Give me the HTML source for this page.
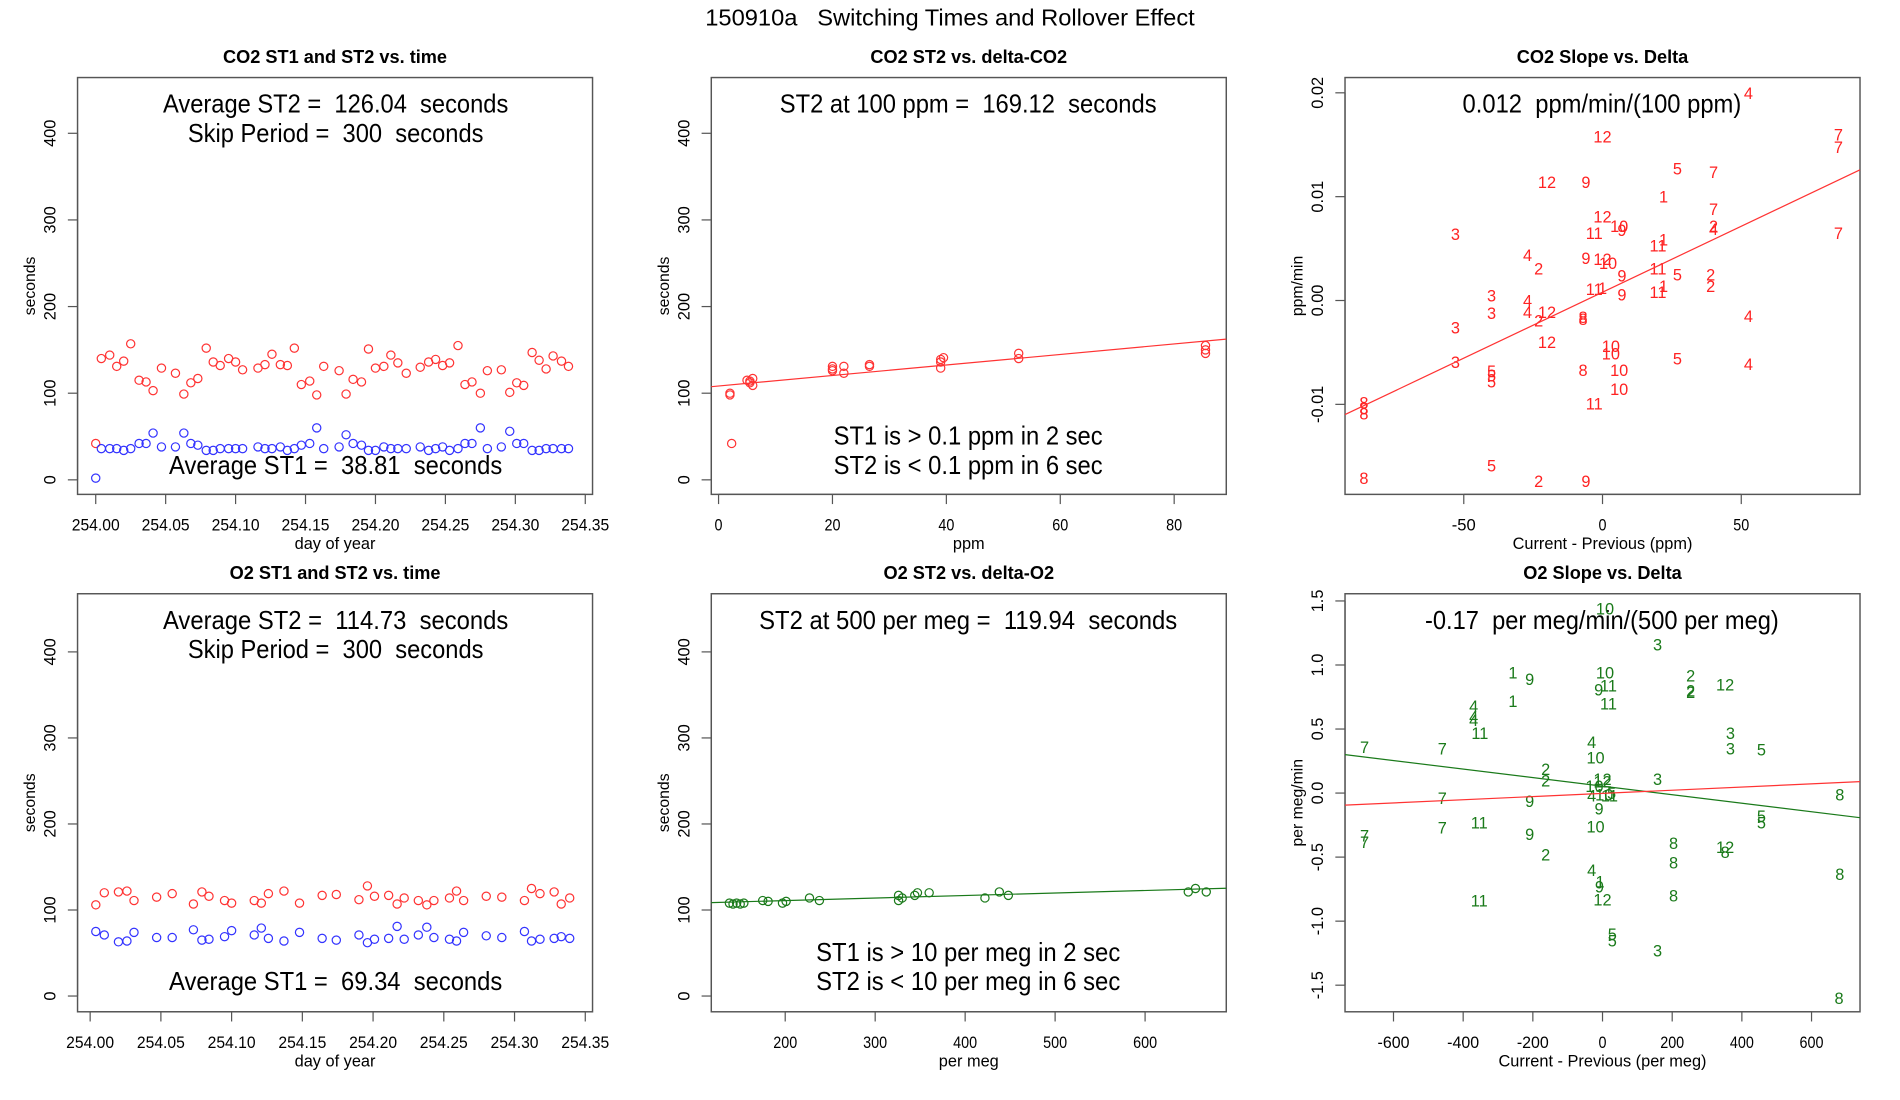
<!DOCTYPE html>
<html><head><meta charset="utf-8"><style>
html,body{margin:0;padding:0;background:#fff}
svg{display:block}
text{font-family:"Liberation Sans",sans-serif;white-space:pre}
</style></head><body>
<svg id="fig" width="1900" height="1100" viewBox="0 0 1568 907.8" preserveAspectRatio="none" xmlns="http://www.w3.org/2000/svg">
<rect x="0" y="0" width="1568" height="908" fill="#fff"/>
<text x="784" y="21" font-size="19" text-anchor="middle" textLength="404" lengthAdjust="spacingAndGlyphs">150910a   Switching Times and Rollover Effect</text>
</svg>
<script>
// ---- data ----
const co2Days=[254.000,254.004,254.010,254.015,254.020,254.025,254.031,254.036,254.041,254.047,254.057,254.063,254.068,254.073,254.079,254.084,254.089,254.095,254.100,254.105,254.116,254.121,254.126,254.132,254.137,254.142,254.147,254.153,254.158,254.163,254.174,254.179,254.184,254.190,254.195,254.200,254.206,254.211,254.216,254.222,254.232,254.238,254.243,254.248,254.253,254.259,254.264,254.269,254.275,254.280,254.290,254.296,254.301,254.306,254.312,254.317,254.322,254.327,254.333,254.338];
const co2ST2=[42,140,144,131,137,157,115,113,103,129,123,99,112,117,152,136,132,140,136,127,129,133,145,133,132,152,110,114,98,131,126,99,116,113,151,129,131,144,135,123,130,136,139,132,135,155,110,113,100,126,127,101,112,109,147,138,128,143,137,131];
const co2ST1=[2,36,36,36,34,36,42,42,54,38,38,54,42,40,34,34,36,36,36,36,38,36,36,38,34,36,40,42,60,36,38,52,42,40,34,34,38,36,36,36,38,34,36,38,34,36,42,42,60,36,38,56,42,42,34,34,36,36,36,36];
const o2Days=[254.004,254.010,254.020,254.026,254.031,254.047,254.058,254.073,254.079,254.084,254.095,254.100,254.116,254.121,254.126,254.137,254.148,254.164,254.174,254.190,254.196,254.201,254.211,254.217,254.222,254.232,254.238,254.243,254.254,254.259,254.264,254.280,254.291,254.307,254.312,254.318,254.328,254.333,254.339];
const o2ST2=[106,120,121,122,111,115,119,107,121,116,111,108,111,108,119,122,108,117,118,112,128,116,117,107,114,111,106,111,114,122,111,116,115,111,125,119,121,107,114];
const o2ST1=[75,71,63,64,74,68,68,77,65,66,69,76,71,79,67,64,74,67,65,71,62,66,67,81,66,71,80,68,66,64,74,70,68,75,64,66,67,69,67];
const co2Delta=[2,2,2.3,5,5.5,6,6,5.5,20,20,22,22,20,26.5,26.5,39,39,39.5,39,52.7,52.7,85.5,85.5,85.5];
const co2DeltaST2=[100,98,42,115,112,117,109,114,131,126,131,123,128,133,131,139,136,141,129,146,140,155,150,146];
const co2Fit=[108.3,0.607];
const o2Delta=[138,142,146,150,154,175,181,197,201,227,238,326,330,326,344,347,360,422,438,448,648,656,668];
const o2DeltaST2=[108,107,108,107,108,111,110,108,110,114,111,117,114,111,117,120,120,114,121,117,121,125,121];
const o2Fit=[105.1,0.0293];
const co2Lab=["4","12","7","7","5","7","12","9","1","7","12","10","9","2","4","11","3","7","1","11","4","9","12","10","2","11","9","5","2","1","2","11","1","11","9","3","4","3","4","12","2","8","8","4","3","12","10","10","5","3","4","5","5","5","8","10","10","11","8","8","8","5","8","2","9"];
const co2Dx=[52.6,0,85,85,27,40,-20,-6,22,40,0,6,7,40,40,-3,-53,85,22,20,-27,-6,0,2,-23,20,7,27,39,22,39,-3,0,20,7,-40,-27,-40,-27,-20,-23,-7,-7,52.6,-53,-20,3,3,27,-53,52.6,-40,-40,-40,-7,6,6,-3,-86,-86,-86,-40,-86,-23,-6];
const co2Slope=[0.020,0.0158,0.0160,0.0148,0.0127,0.0124,0.0114,0.0114,0.0100,0.0088,0.0081,0.0072,0.0068,0.0072,0.0069,0.0065,0.0064,0.0065,0.0059,0.0053,0.0044,0.0041,0.0040,0.0036,0.0031,0.0031,0.0024,0.0025,0.0025,0.0014,0.0014,0.0011,0.0012,0.0008,0.0006,0.0005,0.0,-0.0012,-0.0011,-0.0011,-0.0019,-0.0016,-0.0018,-0.0015,-0.0026,-0.0040,-0.0044,-0.0051,-0.0056,-0.0059,-0.0061,-0.0068,-0.0072,-0.0078,-0.0067,-0.0067,-0.0085,-0.0099,-0.0098,-0.0104,-0.0109,-0.0159,-0.0171,-0.0174,-0.0174];
const co2SlopeFit=[0.0008,0.000127];
const o2Lab=["10","3","1","9","10","2","12","9","11","2","2","11","1","4","4","4","11","3","3","5","7","7","4","10","2","2","12","3","12","10","4","10","11","5","9","7","8","9","5","5","7","11","10","9","7","7","8","12","8","2","8","4","8","1","9","12","11","8","5","5","3","8"];
const o2Dx=[7,158,-257,-209,7,253,352,-11,17,253,253,17,-257,-370,-370,-370,-352,367,367,456,-683,-460,-31,-20,-163,-163,0,158,0,-23,-31,5,20,26,-209,-460,681,-10,456,456,-460,-354,-20,-209,-683,-683,204,352,352,-163,204,-31,681,-7,-9,0,-354,204,28,28,158,679];
const o2Slope=[1.44,1.16,0.94,0.89,0.94,0.92,0.85,0.81,0.84,0.80,0.79,0.70,0.72,0.68,0.60,0.57,0.47,0.47,0.35,0.34,0.36,0.35,0.40,0.28,0.19,0.10,0.11,0.11,0.09,0.055,-0.02,-0.01,-0.02,0.0,-0.06,-0.04,-0.01,-0.12,-0.18,-0.23,-0.27,-0.23,-0.26,-0.32,-0.33,-0.38,-0.39,-0.42,-0.46,-0.48,-0.54,-0.60,-0.63,-0.69,-0.73,-0.83,-0.84,-0.80,-1.10,-1.15,-1.23,-1.60];
const o2SlopeFitGreen=[0.054,-0.000333];
const o2SlopeFitRed=[-0.0025,0.000124];

const NS="http://www.w3.org/2000/svg";
const svg=document.getElementById('fig');
function mk(tag,attrs,parent){const e=document.createElementNS(NS,tag);for(const k in attrs)e.setAttribute(k,attrs[k]);(parent||svg).appendChild(e);return e;}
function txt(s,attrs,parent){const e=mk('text',attrs,parent);e.textContent=s;return e;}
function lin(d0,d1,r0,r1){return v=>r0+(v-d0)*(r1-r0)/(d1-d0);}

function panel(name,box,title,xs,ys,xt,xtl,yt,ytl,xlab,ylab){
  const g=mk('g',{});
  
  
  const [x0,x1,y0,y1]=box;
  const t=txt(title,{x:(x0+x1)/2,y:y0-12,'font-size':15,'font-weight':'bold','text-anchor':'middle'},g);
  
  
  const r=mk('rect',{x:x0,y:y0,width:x1-x0,height:y1-y0,fill:'none',stroke:'#555','stroke-width':1.2},g);
  
  
  const xa=mk('g',{},g);
  
  
  mk('line',{x1:xs(xt[0]),x2:xs(xt[xt.length-1]),y1:y1,y2:y1,stroke:'#555'},xa);
  xt.forEach((v,i)=>{const X=xs(v);mk('line',{x1:X,x2:X,y1:y1,y2:y1+8,stroke:'#555'},xa);
    const l=txt(xtl[i],{x:X,y:y1+30,'font-size':14,'text-anchor':'middle',textLength:xtl[i].length*6.6,lengthAdjust:'spacingAndGlyphs'},xa);
    
    });
  const ya=mk('g',{},g);
  
  
  mk('line',{x1:x0,x2:x0,y1:ys(yt[0]),y2:ys(yt[yt.length-1]),stroke:'#555'},ya);
  yt.forEach((v,i)=>{const Y=ys(v);mk('line',{x1:x0-8,x2:x0,y1:Y,y2:Y,stroke:'#555'},ya);
    const l=txt(ytl[i],{x:0,y:0,'font-size':13.5,'text-anchor':'middle',transform:`translate(${x0-18},${Y}) rotate(-90)`},ya);
    
    });
  const xl=txt(xlab,{x:(x0+x1)/2,y:y1+45,'font-size':13.5,'text-anchor':'middle'},g);
  
  
  const yl=txt(ylab,{x:0,y:0,'font-size':13,'text-anchor':'middle',transform:`translate(${x0-35},${(y0+y1)/2}) rotate(-90)`},g);
  
  
  return g;
}
function note(g,s,cx,y,w,nm){const e=txt(s,{x:cx,y:y,'font-size':21,'text-anchor':'middle',textLength:w,lengthAdjust:'spacingAndGlyphs'},g);
  
  }
function circ(g,x,y,c,nm){const e=mk('circle',{cx:x,cy:y,r:3.4,fill:'none',stroke:c,'stroke-width':1},g);
  
  }
function fitLine(g,box,xs,ys,xsInv,fit,c,nm){const a=xsInv(box[0]),b=xsInv(box[1]);
  const e=mk('line',{x1:box[0],x2:box[1],y1:ys(fit[0]+fit[1]*a),y2:ys(fit[0]+fit[1]*b),stroke:c,'stroke-width':1},g);
  
  }
function lab(g,s,x,y,c){const e=txt(s,{x:x,y:y+5,'font-size':13.5,fill:c,'text-anchor':'middle'},g);
  
  }

const timeTicks=[254.00,254.05,254.10,254.15,254.20,254.25,254.30,254.35];
const timeTickLabels=["254.00","254.05","254.10","254.15","254.20","254.25","254.30","254.35"];
const secTicks=[0,100,200,300,400];
const secTickLabels=["0","100","200","300","400"];

{const box=[64,489,64,408];const xs=lin(254,254.35,79,483),ys=lin(0,400,396,110);
 const g=panel('co2-time-panel',box,'CO2 ST1 and ST2 vs. time',xs,ys,timeTicks,timeTickLabels,secTicks,secTickLabels,'day of year','seconds');
 note(g,'Average ST2 =  126.04  seconds',277,93,285,'avg-st2-note');note(g,'Skip Period =  300  seconds',277,117,244,'skip-period-note');note(g,'Average ST1 =  38.81  seconds',277,391,275,'avg-st1-note');
 co2Days.forEach((d,i)=>{circ(g,xs(d),ys(co2ST2[i]),'#ff3333','st2-point');circ(g,xs(d),ys(co2ST1[i]),'#3333ff','st1-point');});}
{const box=[587,1012,64,408];const xs=lin(0,80,593,969),ys=lin(0,400,396,110);const xi=lin(593,969,0,80);
 const g=panel('co2-delta-panel',box,'CO2 ST2 vs. delta-CO2',xs,ys,[0,20,40,60,80],["0","20","40","60","80"],secTicks,secTickLabels,'ppm','seconds');
 note(g,'ST2 at 100 ppm =  169.12  seconds',799,93,311,'st2-at-100-note');note(g,'ST1 is > 0.1 ppm in 2 sec',799,367,222,'st1-threshold-note');note(g,'ST2 is < 0.1 ppm in 6 sec',799,391,222,'st2-threshold-note');
 co2Delta.forEach((d,i)=>circ(g,xs(d),ys(co2DeltaST2[i]),'#ff3333','st2-point'));
 fitLine(g,box,xs,ys,xi,co2Fit,'#ff3333','fit-line');}
{const box=[1110,1535,64,408];const xs=lin(0,50,1322.5,1437),ys=lin(0,0.01,248,162.3);const xi=lin(1322.5,1437,0,50);
 const g=panel('co2-slope-panel',box,'CO2 Slope vs. Delta',xs,ys,[-50,0,50],["-50","0","50"],[-0.01,0,0.01,0.02],["-0.01","0.00","0.01","0.02"],'Current - Previous (ppm)','ppm/min');
 note(g,'0.012  ppm/min/(100 ppm)',1322,93,230,'slope-note');
 co2Lab.forEach((s,i)=>lab(g,s,xs(co2Dx[i]),ys(co2Slope[i]),'#ff2222'));
 fitLine(g,box,xs,ys,xi,co2SlopeFit,'#ff3333','fit-line');}
{const box=[64,489,490,835];const xs=lin(254,254.35,74.4,483),ys=lin(0,400,822,538);
 const g=panel('o2-time-panel',box,'O2 ST1 and ST2 vs. time',xs,ys,timeTicks,timeTickLabels,secTicks,secTickLabels,'day of year','seconds');
 note(g,'Average ST2 =  114.73  seconds',277,519,285,'avg-st2-note');note(g,'Skip Period =  300  seconds',277,543,244,'skip-period-note');note(g,'Average ST1 =  69.34  seconds',277,817,275,'avg-st1-note');
 o2Days.forEach((d,i)=>{circ(g,xs(d),ys(o2ST2[i]),'#ff3333','st2-point');circ(g,xs(d),ys(o2ST1[i]),'#3333ff','st1-point');});}
{const box=[587,1012,490,835];const xs=lin(200,600,648,945),ys=lin(0,400,822,538);const xi=lin(648,945,200,600);
 const g=panel('o2-delta-panel',box,'O2 ST2 vs. delta-O2',xs,ys,[200,300,400,500,600],["200","300","400","500","600"],secTicks,secTickLabels,'per meg','seconds');
 note(g,'ST2 at 500 per meg =  119.94  seconds',799,519,345,'st2-at-500-note');note(g,'ST1 is > 10 per meg in 2 sec',799,793,251,'st1-threshold-note');note(g,'ST2 is < 10 per meg in 6 sec',799,817,251,'st2-threshold-note');
 o2Delta.forEach((d,i)=>circ(g,xs(d),ys(o2DeltaST2[i]),'#1a7a1a','st2-point'));
 fitLine(g,box,xs,ys,xi,o2Fit,'#1a7a1a','fit-line');}
{const box=[1110,1535,490,835];const xs=lin(0,600,1322.5,1495),ys=lin(0,1,654.5,548.8);const xi=lin(1322.5,1495,0,600);
 const g=panel('o2-slope-panel',box,'O2 Slope vs. Delta',xs,ys,[-600,-400,-200,0,200,400,600],["-600","-400","-200","0","200","400","600"],[-1.5,-1,-0.5,0,0.5,1,1.5],["-1.5","-1.0","-0.5","0.0","0.5","1.0","1.5"],'Current - Previous (per meg)','per meg/min');
 note(g,'-0.17  per meg/min/(500 per meg)',1322,519,292,'slope-note');
 o2Lab.forEach((s,i)=>lab(g,s,xs(o2Dx[i]),ys(o2Slope[i]),'#1a7a1a'));
 fitLine(g,box,xs,ys,xi,o2SlopeFitGreen,'#1a7a1a','fit-line-green');
 fitLine(g,box,xs,ys,xi,o2SlopeFitRed,'#ff3333','fit-line-red');}
</script>
</body></html>
